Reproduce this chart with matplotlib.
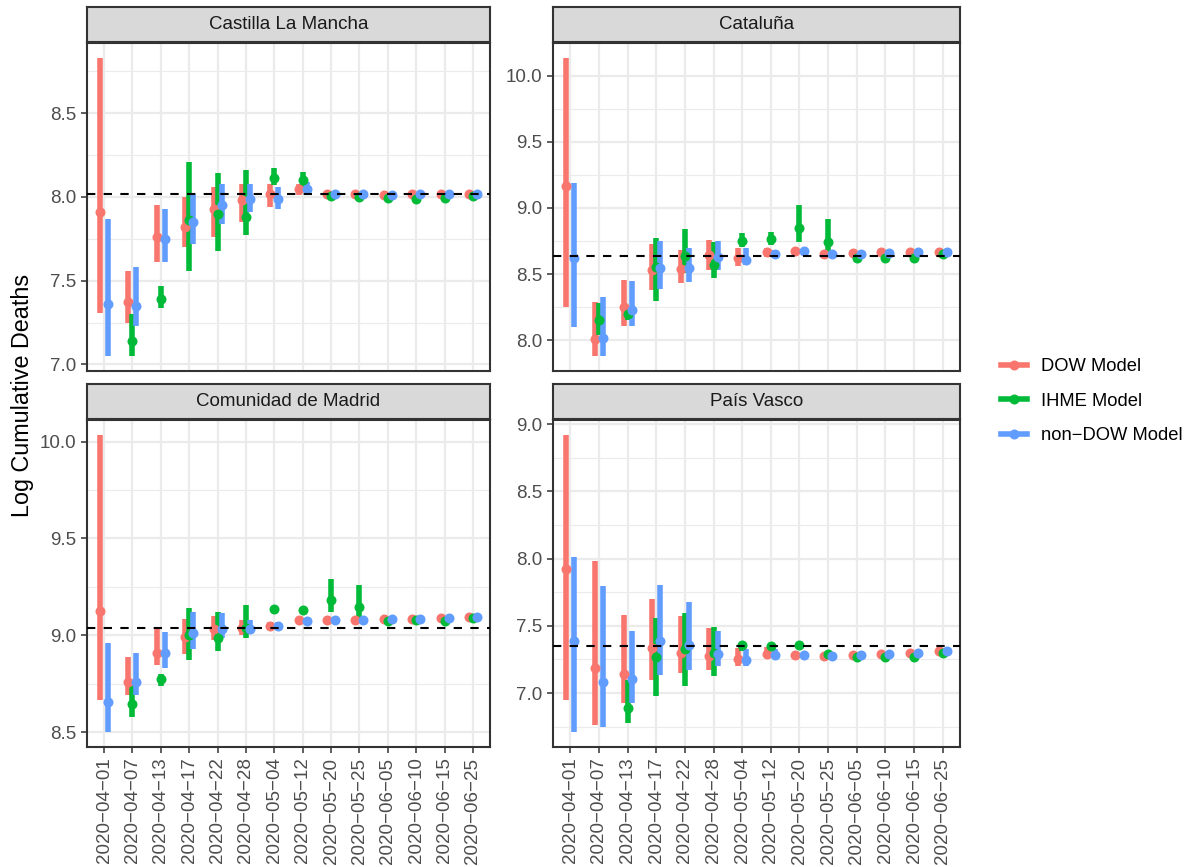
import numpy as np
import matplotlib
matplotlib.use("Agg")
import matplotlib.pyplot as plt
from matplotlib.lines import Line2D
from matplotlib.ticker import MultipleLocator

nan = np.nan

dates = ["2020-04-01", "2020-04-07", "2020-04-13", "2020-04-17", "2020-04-22",
         "2020-04-28", "2020-05-04", "2020-05-12", "2020-05-20", "2020-05-25",
         "2020-06-05", "2020-06-10", "2020-06-15", "2020-06-25"]
models = ["DOW Model", "IHME Model", "non\u2212DOW Model"]
regions = ["Castilla La Mancha", "Catalu\u00f1a", "Comunidad de Madrid", "Pa\u00eds Vasco"]
truth = [8.015, 8.64, 9.038, 7.347]

# Castilla La Mancha
clm_dow_est = [7.91, 7.37, 7.76, 7.82, 7.93, 7.98, 8.02, 8.05, 8.02, 8.02, 8.01, 8.015, 8.015, 8.02]
clm_dow_lo = [7.31, 7.25, 7.61, 7.70, 7.76, 7.85, 7.94, 8.01, 8.01, 8.01, 8.00, 8.005, 8.005, 8.01]
clm_dow_hi = [8.83, 7.56, 7.95, 8.00, 8.06, 8.08, 8.08, 8.08, 8.03, 8.03, 8.02, 8.025, 8.025, 8.03]
clm_ihme_est = [nan, 7.14, 7.39, 7.86, 7.90, 7.88, 8.115, 8.10, 8.005, 8.00, 7.995, 7.99, 7.995, 8.005]
clm_ihme_lo = [nan, 7.05, 7.34, 7.56, 7.68, 7.77, 8.07, 8.06, 7.995, 7.99, 7.985, 7.98, 7.985, 7.995]
clm_ihme_hi = [nan, 7.30, 7.47, 8.21, 8.14, 8.16, 8.17, 8.15, 8.015, 8.01, 8.005, 8.00, 8.005, 8.015]
clm_ndow_est = [7.36, 7.35, 7.75, 7.85, 7.95, 7.99, 7.99, 8.05, 8.02, 8.02, 8.01, 8.015, 8.015, 8.02]
clm_ndow_lo = [7.05, 7.23, 7.61, 7.72, 7.84, 7.91, 7.93, 8.01, 8.01, 8.01, 8.00, 8.005, 8.005, 8.01]
clm_ndow_hi = [7.87, 7.58, 7.93, 8.02, 8.08, 8.08, 8.06, 8.09, 8.03, 8.03, 8.02, 8.025, 8.025, 8.03]

# Cataluña
cat_dow_est = [9.17, 8.01, 8.25, 8.53, 8.535, 8.645, 8.62, 8.665, 8.675, 8.655, 8.66, 8.665, 8.665, 8.67]
cat_dow_lo = [8.25, 7.88, 8.11, 8.38, 8.43, 8.53, 8.565, 8.63, 8.66, 8.645, 8.65, 8.655, 8.655, 8.66]
cat_dow_hi = [10.135, 8.29, 8.455, 8.73, 8.68, 8.76, 8.70, 8.70, 8.69, 8.67, 8.67, 8.675, 8.675, 8.68]
cat_ihme_est = [nan, 8.15, 8.20, 8.55, 8.64, 8.57, 8.75, 8.765, 8.85, 8.745, 8.625, 8.625, 8.625, 8.65]
cat_ihme_lo = [nan, 8.04, 8.15, 8.30, 8.505, 8.47, 8.705, 8.72, 8.745, 8.655, 8.615, 8.615, 8.615, 8.64]
cat_ihme_hi = [nan, 8.28, 8.25, 8.77, 8.84, 8.745, 8.81, 8.82, 9.02, 8.92, 8.635, 8.635, 8.635, 8.66]
cat_ndow_est = [8.62, 8.02, 8.23, 8.545, 8.545, 8.63, 8.61, 8.65, 8.675, 8.655, 8.655, 8.66, 8.665, 8.67]
cat_ndow_lo = [8.10, 7.88, 8.11, 8.39, 8.44, 8.53, 8.57, 8.625, 8.66, 8.645, 8.645, 8.65, 8.655, 8.66]
cat_ndow_hi = [9.19, 8.33, 8.45, 8.75, 8.695, 8.75, 8.695, 8.68, 8.69, 8.665, 8.665, 8.67, 8.675, 8.68]

# Comunidad de Madrid
mad_dow_est = [9.125, 8.76, 8.91, 8.99, 9.03, 9.04, 9.05, 9.08, 9.08, 9.08, 9.083, 9.086, 9.09, 9.095]
mad_dow_lo = [8.665, 8.69, 8.845, 8.905, 8.975, 9.0, 9.03, 9.07, 9.07, 9.07, 9.075, 9.078, 9.082, 9.087]
mad_dow_hi = [10.035, 8.89, 9.04, 9.085, 9.10, 9.08, 9.07, 9.09, 9.09, 9.09, 9.09, 9.094, 9.098, 9.103]
mad_ihme_est = [nan, 8.645, 8.775, 9.00, 8.985, 9.04, 9.135, 9.13, 9.18, 9.145, 9.075, 9.078, 9.075, 9.09]
mad_ihme_lo = [nan, 8.58, 8.74, 8.87, 8.92, 8.985, 9.13, 9.125, 9.12, 9.085, 9.067, 9.07, 9.067, 9.083]
mad_ihme_hi = [nan, 8.75, 8.80, 9.14, 9.12, 9.155, 9.14, 9.135, 9.29, 9.26, 9.083, 9.086, 9.083, 9.098]
mad_ndow_est = [8.655, 8.76, 8.91, 9.01, 9.035, 9.035, 9.048, 9.075, 9.08, 9.08, 9.083, 9.086, 9.09, 9.095]
mad_ndow_lo = [8.50, 8.69, 8.83, 8.93, 8.985, 9.01, 9.03, 9.067, 9.072, 9.072, 9.075, 9.078, 9.082, 9.087]
mad_ndow_hi = [8.96, 8.91, 9.015, 9.12, 9.115, 9.08, 9.07, 9.083, 9.088, 9.088, 9.09, 9.094, 9.098, 9.103]

# País Vasco
pv_dow_est = [7.92, 7.19, 7.145, 7.335, 7.30, 7.275, 7.255, 7.29, 7.28, 7.275, 7.28, 7.29, 7.297, 7.31]
pv_dow_lo = [6.95, 6.765, 6.925, 7.10, 7.15, 7.17, 7.20, 7.26, 7.27, 7.265, 7.27, 7.28, 7.287, 7.30]
pv_dow_hi = [8.92, 7.985, 7.58, 7.70, 7.575, 7.485, 7.335, 7.345, 7.29, 7.285, 7.29, 7.30, 7.307, 7.32]
pv_ihme_est = [nan, nan, 6.89, 7.27, 7.33, 7.30, 7.355, 7.347, 7.355, 7.29, 7.265, 7.265, 7.265, 7.297]
pv_ihme_lo = [nan, nan, 6.78, 6.975, 7.05, 7.125, 7.31, 7.32, 7.345, 7.28, 7.255, 7.255, 7.255, 7.287]
pv_ihme_hi = [nan, nan, 7.095, 7.555, 7.595, 7.49, 7.375, 7.37, 7.365, 7.30, 7.275, 7.275, 7.275, 7.307]
pv_ndow_est = [7.39, 7.08, 7.105, 7.39, 7.36, 7.29, 7.245, 7.285, 7.28, 7.275, 7.28, 7.29, 7.297, 7.31]
pv_ndow_lo = [6.71, 6.75, 6.925, 7.135, 7.175, 7.20, 7.20, 7.26, 7.27, 7.265, 7.27, 7.28, 7.287, 7.30]
pv_ndow_hi = [8.01, 7.795, 7.46, 7.805, 7.68, 7.46, 7.33, 7.33, 7.29, 7.285, 7.29, 7.30, 7.307, 7.32]

panel_data = [
    [(clm_dow_est, clm_dow_lo, clm_dow_hi), (clm_ihme_est, clm_ihme_lo, clm_ihme_hi), (clm_ndow_est, clm_ndow_lo, clm_ndow_hi)],
    [(cat_dow_est, cat_dow_lo, cat_dow_hi), (cat_ihme_est, cat_ihme_lo, cat_ihme_hi), (cat_ndow_est, cat_ndow_lo, cat_ndow_hi)],
    [(mad_dow_est, mad_dow_lo, mad_dow_hi), (mad_ihme_est, mad_ihme_lo, mad_ihme_hi), (mad_ndow_est, mad_ndow_lo, mad_ndow_hi)],
    [(pv_dow_est, pv_dow_lo, pv_dow_hi), (pv_ihme_est, pv_ihme_lo, pv_ihme_hi), (pv_ndow_est, pv_ndow_lo, pv_ndow_hi)],
]

colors = ["#F8766D", "#00BA38", "#619CFF"]
offsets = [-0.14, 0.0, 0.14]

plt.rcParams["font.family"] = ["Liberation Sans", "DejaVu Sans"]

W, H = 1196, 867
fig = plt.figure(figsize=(W / 100, H / 100), dpi=100)


def px_box(left, top, right, bottom):
    return [left / W, (H - bottom) / H, (right - left) / W, (bottom - top) / H]


# panel boxes in pixels: left, top, right, bottom
boxes = [(87, 43, 490, 371), (553, 43, 960, 371),
         (87, 420, 490, 747), (553, 420, 960, 747)]

x = np.arange(len(dates))
for i, (l, t, r, b) in enumerate(boxes):
    ax = fig.add_axes(px_box(l, t, r, b))
    ax.set_facecolor("white")

    allv = []
    for k, (est, lo, hi) in enumerate(panel_data[i]):
        lo = np.array(lo); hi = np.array(hi)
        allv += list(lo[~np.isnan(lo)]) + list(hi[~np.isnan(hi)])
        ax.vlines(x + offsets[k], lo, hi, colors=colors[k], lw=4.0, zorder=3,
                  capstyle="butt")
    for k, (est, lo, hi) in enumerate(panel_data[i]):
        ax.plot(x + offsets[k], est, "o", color=colors[k], ms=7.2, mew=0, zorder=4)

    ax.axhline(truth[i], color="black", lw=1.5, ls=(0, (4, 4)), zorder=5)

    ymin, ymax = min(allv), max(allv)
    pad = 0.05 * (ymax - ymin)
    ax.set_ylim(ymin - pad, ymax + pad)
    ax.set_xlim(-0.6, len(dates) - 0.4)

    ax.yaxis.set_major_locator(MultipleLocator(0.5))
    ax.yaxis.set_minor_locator(MultipleLocator(0.25))
    ax.yaxis.set_major_formatter(plt.FuncFormatter(lambda v, p: f"{v:.1f}"))
    ax.set_xticks(x)
    ax.grid(which="major", color="#EBEBEB", lw=1.6, zorder=0)
    ax.grid(which="minor", axis="y", color="#EBEBEB", lw=0.8, zorder=0)
    ax.set_axisbelow(True)

    for s in ax.spines.values():
        s.set_color("#333333")
        s.set_linewidth(1.5)
    ax.tick_params(axis="both", which="major", length=4.2, width=1.1, color="#333333",
                   labelcolor="#4D4D4D", labelsize=13.5, pad=3.4)
    ax.tick_params(axis="y", which="minor", length=0)

    if i < 2:
        ax.tick_params(axis="x", which="both", length=0, labelbottom=False)
    else:
        ax.set_xticklabels([d.replace("-", "\u2212") for d in dates], rotation=90)

    # facet strip
    sax = fig.add_axes(px_box(l, t - 36, r, t - 1))
    sax.set_facecolor("#D9D9D9")
    sax.set_xticks([]); sax.set_yticks([])
    for s in sax.spines.values():
        s.set_color("#333333")
        s.set_linewidth(1.5)
    sax.text(0.5, 0.5, regions[i], ha="center", va="center", fontsize=13.5,
             color="#1A1A1A", transform=sax.transAxes)

fig.text(22 / W, 1 - 395 / H, "Log Cumulative Deaths", rotation=90, ha="center",
         va="center", fontsize=16.8, color="black")

handles = [Line2D([0], [0], color=c, lw=4.0, marker="o", ms=7.2, mew=0) for c in colors]
fig.legend(handles, models, loc="center left", bbox_to_anchor=(984 / W, 1 - 401 / H),
           frameon=False, fontsize=13.2, handlelength=1.45, handletextpad=0.75,
           labelspacing=0.95)

fig.savefig("out.png", dpi=100)
